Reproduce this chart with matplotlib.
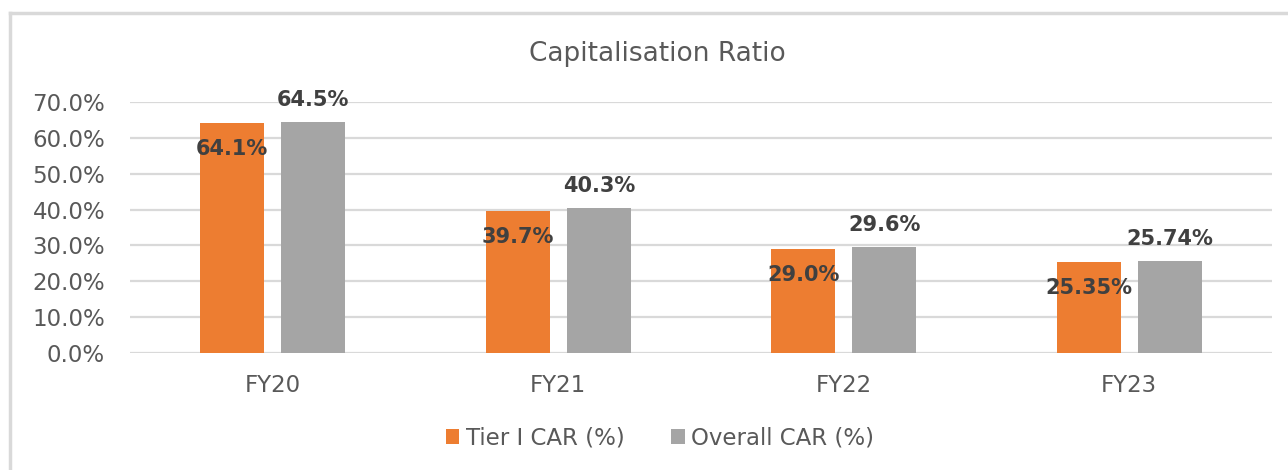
import matplotlib
matplotlib.use("Agg")
import matplotlib.pyplot as plt
import numpy as np
from matplotlib.lines import Line2D

plt.rcParams["font.family"] = ["DejaVu Sans"]

categories = ["FY20", "FY21", "FY22", "FY23"]
tier1_car = [64.1, 39.7, 29.0, 25.35]
overall_car = [64.5, 40.3, 29.6, 25.74]
tier1_labels = ["64.1%", "39.7%", "29.0%", "25.35%"]
overall_labels = ["64.5%", "40.3%", "29.6%", "25.74%"]
series_names = ["Tier I CAR (%)", "Overall CAR (%)"]
yticks = [0, 10, 20, 30, 40, 50, 60, 70]

ORANGE = "#ED7D31"
GREY = "#A5A5A5"
TEXT = "#595959"
LABEL = "#404040"
GRID = "#D9D9D9"

W, H = 1288, 470
fig = plt.figure(figsize=(W / 100, H / 100), dpi=100)
fig.patch.set_facecolor("white")

# chart frame (open on the right and bottom)
fig.add_artist(Line2D([10 / W, 10 / W], [0, 1 - 13 / H], color="#D9D9D9", lw=2.5, transform=fig.transFigure))
fig.add_artist(Line2D([10 / W, 1], [1 - 13 / H, 1 - 13 / H], color="#D9D9D9", lw=2.5, transform=fig.transFigure))

# plot area: x 130..1272, y 102 (70%) .. 353 (0%)
left, right = 130 / W, 1272 / W
y0_px, y70_px = 353, 102
bottom = 1 - y0_px / H
top = 1 - y70_px / H
ax = fig.add_axes([left, bottom, right - left, top - bottom])
ax.set_xlim(-0.5, 3.5)
ax.set_ylim(0, 70)

x = np.arange(len(categories))
bw = 0.224
off = 0.142
ax.bar(x - off, tier1_car, bw, color=ORANGE, label=series_names[0], zorder=3)
ax.bar(x + off, overall_car, bw, color=GREY, label=series_names[1], zorder=3)

for xi, v, t in zip(x, tier1_car, tier1_labels):
    ax.annotate(t, (xi - off, v), xytext=(0, -26), textcoords="offset pixels",
                ha="center", va="center", fontsize=15, fontweight="bold", color=LABEL, zorder=5)
for xi, v, t in zip(x, overall_car, overall_labels):
    ax.annotate(t, (xi + off, v), xytext=(0, 22), textcoords="offset pixels",
                ha="center", va="center", fontsize=15, fontweight="bold", color=LABEL, zorder=5)

ax.set_yticks(yticks)
ax.set_yticklabels([f"{v:.1f}%" for v in yticks])
ax.set_xticks(x)
ax.set_xticklabels(categories)
ax.tick_params(axis="y", length=0, pad=18, labelsize=16.5, labelcolor=TEXT)
ax.tick_params(axis="x", length=0, pad=15, labelsize=16.5, labelcolor=TEXT)
ax.grid(axis="y", color=GRID, lw=1.6, zorder=0)
ax.set_axisbelow(True)
for s in ax.spines.values():
    s.set_visible(False)

fig.text(657 / W, 1 - 54 / H, "Capitalisation Ratio", ha="center", va="center",
         fontsize=19, color=TEXT)

fig.legend(loc="center", bbox_to_anchor=(660 / W, 1 - 438 / H), ncol=2, frameon=False,
           fontsize=16.5, labelcolor=TEXT, handlelength=0.6, handleheight=0.6,
           handletextpad=0.3, columnspacing=2.0)

fig.savefig("out.png", dpi=100, facecolor="white")
